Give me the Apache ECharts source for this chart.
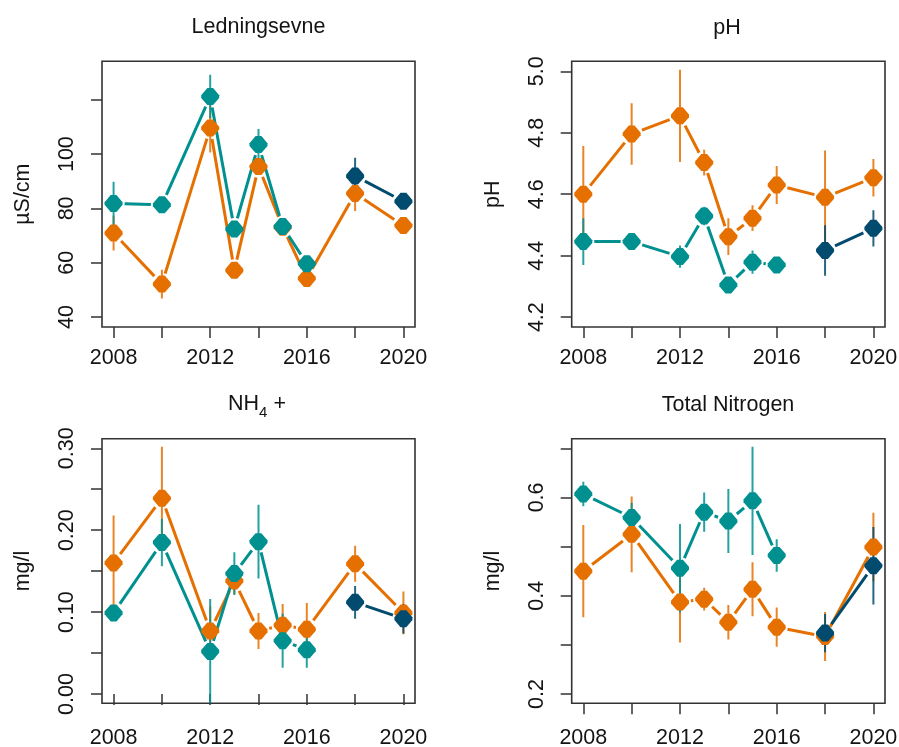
<!DOCTYPE html>
<html>
<head>
<meta charset="utf-8">
<script src="https://cdn.jsdelivr.net/npm/echarts@6/dist/echarts.min.js"></script>
<style>
  html, body { margin: 0; padding: 0; background: #ffffff; }
  #chart { width: 899px; height: 747px; }
</style>
</head>
<body>
<div id="chart"></div>
<script>
// Sampling years shared by all four panels
const years = [2008, 2010, 2012, 2013, 2014, 2015, 2016, 2018, 2020];
const xTicks = [2008, 2010, 2012, 2014, 2016, 2018, 2020];
const xTickLabels = [2008, 2012, 2016, 2020];

// Ledningsevne (µS/cm): means and half-widths of the error bars
const condOrange    = [70.9, 52.1, 109.6, 57.2, 95.4, 73.1, 54.2, 85.5, 73.7];
const condOrangeErr = [6.4, 5.3, 9.0, 1.5, 3.0, 1.5, 1.5, 6.5, 1.5];
const condTeal      = [81.8, 81.3, 121.2, 72.4, 103.5, 73.3, 59.6, null, null];
const condTealErr   = [8.0, 1.5, 8.0, 1.5, 5.8, 1.5, 1.5, null, null];
const condDark      = [null, null, null, null, null, null, null, 91.9, 82.6];
const condDarkErr   = [null, null, null, null, null, null, null, 6.8, 1.5];
const condTicks     = [40, 60, 80, 100, 120];
const condTickLabels = [40, 60, 80, 100];

// pH
const phOrange    = [4.600, 4.796, 4.855, 4.703, 4.462, 4.522, 4.630, 4.590, 4.654];
const phOrangeErr = [0.157, 0.100, 0.150, 0.042, 0.060, 0.042, 0.062, 0.152, 0.061];
const phTeal      = [4.446, 4.446, 4.397, 4.529, 4.305, 4.379, 4.370, null, null];
const phTealErr   = [0.076, 0.010, 0.036, 0.030, 0.010, 0.038, 0.010, null, null];
const phDark      = [null, null, null, null, null, null, null, 4.417, 4.489];
const phDarkErr   = [null, null, null, null, null, null, null, 0.082, 0.059];
const phTicks     = [4.2, 4.4, 4.6, 4.8, 5.0];
const phTickLabels = [4.2, 4.4, 4.6, 4.8, 5.0];

// NH4+ (mg/l)
const nh4Orange    = [0.160, 0.239, 0.077, 0.138, 0.077, 0.084, 0.079, 0.159, 0.099];
const nh4OrangeErr = [0.058, 0.063, 0.030, 0.016, 0.022, 0.026, 0.032, 0.022, 0.026];
const nh4Teal      = [0.099, 0.185, 0.052, 0.147, 0.186, 0.065, 0.054, null, null];
const nh4TealErr   = [0.008, 0.029, 0.064, 0.026, 0.045, 0.033, 0.022, null, null];
const nh4Dark      = [null, null, null, null, null, null, null, 0.112, 0.092];
const nh4DarkErr   = [null, null, null, null, null, null, null, 0.020, 0.018];
const nh4Ticks     = [0, 0.05, 0.10, 0.15, 0.20, 0.25, 0.30];
const nh4TickLabels = [0, 0.10, 0.20, 0.30];

// Total Nitrogen (mg/l)
const totnOrange    = [0.450, 0.525, 0.387, 0.393, 0.346, 0.413, 0.336, 0.317, 0.499];
const totnOrangeErr = [0.094, 0.077, 0.082, 0.023, 0.035, 0.055, 0.040, 0.050, 0.070];
const totnTeal      = [0.607, 0.559, 0.456, 0.570, 0.552, 0.593, 0.482, null, null];
const totnTealErr   = [0.025, 0.030, 0.090, 0.040, 0.065, 0.110, 0.033, null, null];
const totnDark      = [null, null, null, null, null, null, null, 0.324, 0.461];
const totnDarkErr   = [null, null, null, null, null, null, null, 0.039, 0.079];
const totnTicks     = [0.2, 0.3, 0.4, 0.5, 0.6, 0.7];
const totnTickLabels = [0.2, 0.4, 0.6];

const COLORS = { orange: '#E57000', teal: '#009090', dark: '#004B6E' };
const FONT = 'Liberation Sans, Arial, sans-serif';
const TEXT = '#141414';
const AXIS = '#333333';
const GAP = 11; // pixels left blank around each point on the connecting lines
const MARKER = 'path://M34,0 L66,0 L100,42 L100,58 L66,100 L34,100 L0,58 L0,42 Z';

const panels = [
  { name: 'µS/cm', digits: 0, ymin: 36.3, ymax: 134.2, ticks: condTicks, labels: condTickLabels, xMargin: 20,
    rect: { left: 102, top: 61.3, width: 313, height: 265.7 },
    series: [[condOrange, condOrangeErr, 'orange'], [condTeal, condTealErr, 'teal'], [condDark, condDarkErr, 'dark']] },
  { name: 'pH', digits: 1, ymin: 4.168, ymax: 5.0325, ticks: phTicks, labels: phTickLabels, xMargin: 20,
    rect: { left: 571.7, top: 61.3, width: 313.3, height: 265.7 },
    series: [[phOrange, phOrangeErr, 'orange'], [phTeal, phTealErr, 'teal'], [phDark, phDarkErr, 'dark']] },
  { name: 'mg/l', digits: 2, ymin: -0.01136, ymax: 0.3117, ticks: nh4Ticks, labels: nh4TickLabels, xMargin: 24,
    rect: { left: 102, top: 438.7, width: 313, height: 264.6 },
    series: [[nh4Orange, nh4OrangeErr, 'orange'], [nh4Teal, nh4TealErr, 'teal'], [nh4Dark, nh4DarkErr, 'dark']] },
  { name: 'mg/l', digits: 1, ymin: 0.1811, ymax: 0.7195, ticks: totnTicks, labels: totnTickLabels, xMargin: 24,
    rect: { left: 571.7, top: 438.7, width: 313.3, height: 264.6 },
    series: [[totnOrange, totnOrangeErr, 'orange'], [totnTeal, totnTealErr, 'teal'], [totnDark, totnDarkErr, 'dark']] }
];

const grid = [], xAxis = [], yAxis = [], series = [];

panels.forEach((p, k) => {
  grid.push(Object.assign({ show: true, borderColor: AXIS, borderWidth: 1.6, backgroundColor: 'transparent',
                            containLabel: false, outerBoundsMode: 'none' }, p.rect));
  xAxis.push({
    type: 'value', gridIndex: k, min: 2007.52, max: 2020.48,
    axisLine: { show: false }, splitLine: { show: false },
    axisTick: { show: true, inside: false, length: 11, customValues: xTicks, lineStyle: { color: AXIS, width: 1.5 } },
    axisLabel: { customValues: xTickLabels, margin: p.xMargin, color: TEXT, fontSize: 21.5, fontFamily: FONT, formatter: v => String(v) }
  });
  yAxis.push({
    type: 'value', gridIndex: k, min: p.ymin, max: p.ymax,
    name: p.name, nameLocation: 'middle', nameGap: 68, nameRotate: 90,
    nameTextStyle: { color: TEXT, fontSize: 21.5, fontFamily: FONT },
    axisLine: { show: false }, splitLine: { show: false },
    axisTick: { show: true, inside: false, length: 11, customValues: p.ticks, lineStyle: { color: AXIS, width: 1.5 } },
    axisLabel: { customValues: p.labels, rotate: 90, margin: 24, color: TEXT, fontSize: 21.5, fontFamily: FONT,
                 formatter: v => Number(v).toFixed(p.digits) }
  });

  p.series.forEach(([vals, errs, key]) => {
    const color = COLORS[key];
    // error bars
    const errData = [];
    years.forEach((y, i) => { if (vals[i] != null) errData.push([y, vals[i] - errs[i], vals[i] + errs[i]]); });
    series.push({
      type: 'custom', xAxisIndex: k, yAxisIndex: k, clip: true, silent: true,
      data: errData,
      renderItem: (params, api) => {
        const a = api.coord([api.value(0), api.value(1)]);
        const b = api.coord([api.value(0), api.value(2)]);
        return { type: 'line', shape: { x1: a[0], y1: a[1], x2: b[0], y2: b[1] },
                 style: { stroke: color, lineWidth: 2, opacity: 0.85 } };
      }
    });
    // connecting segments, broken around each point
    const segData = [];
    for (let i = 0; i < years.length - 1; i++) {
      if (vals[i] != null && vals[i + 1] != null) segData.push([years[i], vals[i], years[i + 1], vals[i + 1]]);
    }
    series.push({
      type: 'custom', xAxisIndex: k, yAxisIndex: k, clip: true, silent: true,
      data: segData,
      renderItem: (params, api) => {
        const a = api.coord([api.value(0), api.value(1)]);
        const b = api.coord([api.value(2), api.value(3)]);
        const dx = b[0] - a[0], dy = b[1] - a[1];
        const len = Math.sqrt(dx * dx + dy * dy);
        if (len <= 2 * GAP + 1) return null;
        const ux = dx / len, uy = dy / len;
        return { type: 'line',
                 shape: { x1: a[0] + ux * GAP, y1: a[1] + uy * GAP, x2: b[0] - ux * GAP, y2: b[1] - uy * GAP },
                 style: { stroke: color, lineWidth: 3 } };
      }
    });
    // points
    const ptData = [];
    years.forEach((y, i) => { if (vals[i] != null) ptData.push([y, vals[i]]); });
    series.push({
      type: 'scatter', xAxisIndex: k, yAxisIndex: k, silent: true,
      symbol: MARKER, symbolSize: [18, 17],
      itemStyle: { color: color, opacity: 1 },
      data: ptData
    });
  });
});

const titleFont = '21.5px ' + FONT;
const graphic = [
  { type: 'text', x: 258.5, y: 16, style: { text: 'Ledningsevne', font: titleFont, fill: TEXT, align: 'center', verticalAlign: 'top' } },
  { type: 'text', x: 727, y: 17, style: { text: 'pH', font: titleFont, fill: TEXT, align: 'center', verticalAlign: 'top' } },
  { type: 'text', x: 257, y: 393, style: {
      text: '{a|NH}{s|4}{a| +}', align: 'center', verticalAlign: 'top', fill: TEXT,
      rich: { a: { font: titleFont, fill: TEXT, verticalAlign: 'bottom' },
              s: { font: '15px ' + FONT, fill: TEXT, verticalAlign: 'bottom', padding: [0, 0, -5, 0] } } } },
  { type: 'text', x: 728, y: 394, style: { text: 'Total Nitrogen', font: titleFont, fill: TEXT, align: 'center', verticalAlign: 'top' } }
];

const chart = echarts.init(document.getElementById('chart'), null, { renderer: 'canvas' });
chart.setOption({
  animation: false,
  backgroundColor: '#ffffff',
  grid, xAxis, yAxis, series, graphic
});
</script>
</body>
</html>
